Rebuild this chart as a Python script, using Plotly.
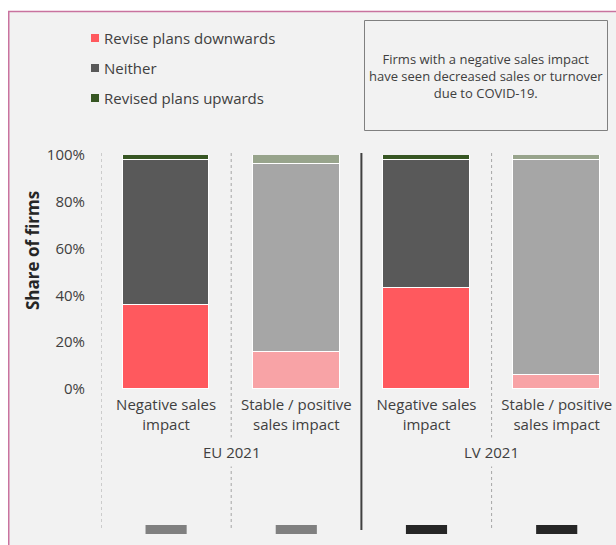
import plotly.graph_objects as go

# ---- data ----
categories = ["Negative sales<br>impact", "Stable / positive<br>sales impact",
              "Negative sales<br>impact", "Stable / positive<br>sales impact"]
groups = ["EU 2021", "LV 2021"]
series_names = ["Revise plans downwards", "Neither", "Revised plans upwards"]
down = [36, 16, 43, 6]
neither = [62, 80, 55, 92]
up = [2, 4, 2, 2]
y_ticks = [0, 20, 40, 60, 80, 100]
y_ticklabels = ["0%", "20%", "40%", "60%", "80%", "100%"]
note_text = "Firms with a negative sales impact<br>have seen decreased sales or turnover<br>due to COVID-19."

# colours: strong for negative sales impact, light for stable/positive
down_colors = ["#FF595E", "#F8A3A6", "#FF595E", "#F8A3A6"]
neither_colors = ["#595959", "#A6A6A6", "#595959", "#A6A6A6"]
up_colors = ["#375623", "#98A48C", "#375623", "#98A48C"]
marker_colors = ["#808080", "#808080", "#262626", "#262626"]

OFF = 0  # page body margin removed below
W, H = 616 - OFF, 545 - OFF
L, R, T, B = 101 - OFF, 616 - OFF, 155 - OFF, 389 - OFF
STEP = 130.2  # pixels per category


def px_x(p):
    return (p - OFF - L) / (R - L)


def px_y(p):
    return (B - (p - OFF)) / (B - T)


xpos = list(range(len(categories)))
fig = go.Figure()
for name, vals, cols in zip(series_names, [down, neither, up],
                            [down_colors, neither_colors, up_colors]):
    fig.add_trace(go.Bar(
        x=xpos, y=vals, name=name, width=0.665,
        marker=dict(color=cols, line=dict(color="white", width=1)),
        showlegend=False, hoverinfo="skip"))

shapes = []
# background panel with pink border (top/left visible)
shapes.append(dict(type="rect", xref="paper", yref="paper",
                   x0=px_x(8.75), x1=px_x(700), y0=px_y(11.5), y1=px_y(600),
                   fillcolor="#F2F2F2", line=dict(color="#C9739F", width=1.5),
                   layer="below"))
# note box
shapes.append(dict(type="rect", xref="paper", yref="paper",
                   x0=px_x(364.5), x1=px_x(607.5), y0=px_y(20.5), y1=px_y(130.5),
                   line=dict(color="#808080", width=1), fillcolor="rgba(0,0,0,0)"))
# separators
for xv in [-0.5, 0.5, 2.5]:
    shapes.append(dict(type="line", xref="x", yref="paper", x0=xv, x1=xv,
                       y0=px_y(153), y1=px_y(530),
                       line=dict(color="#A6A6A6", width=1, dash="dot"), layer="below"))
shapes.append(dict(type="line", xref="x", yref="paper", x0=1.5, x1=1.5,
                   y0=px_y(153), y1=px_y(530),
                   line=dict(color="#404040", width=2)))
# small bottom markers
for i, c in enumerate(marker_colors):
    shapes.append(dict(type="rect", xref="x", yref="paper", x0=i - 0.158, x1=i + 0.158,
                       y0=px_y(534), y1=px_y(525), fillcolor=c, line=dict(width=0)))
# legend squares
leg_y = [38, 68, 98]
leg_cols = [down_colors[0], neither_colors[0], up_colors[0]]
for yy, c in zip(leg_y, leg_cols):
    shapes.append(dict(type="rect", xref="paper", yref="paper",
                       x0=px_x(91), x1=px_x(99), y0=px_y(yy + 4), y1=px_y(yy - 4),
                       fillcolor=c, line=dict(width=0)))

font_family = "Open Sans, Noto Sans, sans-serif"
txt_color = "#404040"
annotations = []
for yy, name in zip(leg_y, series_names):
    annotations.append(dict(xref="paper", yref="paper", x=px_x(102), y=px_y(yy),
                            text=name, showarrow=False, xanchor="left", yanchor="middle",
                            font=dict(size=15, color=txt_color, family=font_family)))
annotations.append(dict(xref="paper", yref="paper", x=px_x(486), y=px_y(76),
                        text=note_text, showarrow=False, xanchor="center", yanchor="middle",
                        align="center",
                        font=dict(size=13, color=txt_color, family=font_family)))
for gi, g in enumerate(groups):
    annotations.append(dict(xref="x", yref="paper", x=gi * 2 + 0.5, y=px_y(452),
                            text=g, showarrow=False, xanchor="center", yanchor="middle",
                            bgcolor="#F2F2F2", borderpad=4,
                            font=dict(size=15, color=txt_color, family=font_family)))
annotations.append(dict(xref="paper", yref="paper", x=px_x(32), y=px_y(251),
                        text="<b>Share of firms</b>", showarrow=False, textangle=-90,
                        xanchor="center", yanchor="middle",
                        font=dict(size=17, color="#262626", family=font_family)))

fig.update_layout(
    width=W, height=H,
    margin=dict(l=L, r=W - R, t=T, b=H - B, pad=0),
    paper_bgcolor="white", plot_bgcolor="rgba(0,0,0,0)",
    barmode="stack", bargap=0,
    shapes=shapes, annotations=annotations,
    font=dict(family=font_family, color=txt_color, size=15),
    xaxis=dict(range=[-0.5, -0.5 + (R - L) / STEP], tickmode="array",
               tickvals=xpos, ticktext=categories, showgrid=False, zeroline=False,
               showline=False, ticks="", ticklabelstandoff=5,
               tickfont=dict(size=15, color=txt_color), fixedrange=True),
    yaxis=dict(range=[0, 100], tickmode="array", tickvals=y_ticks, ticktext=y_ticklabels,
               showgrid=False, zeroline=False, showline=False, ticks="",
               ticklabelstandoff=15, tickfont=dict(size=15, color=txt_color),
               fixedrange=True),
)

fig.write_html(
    "out.html",
    config={"displayModeBar": False},
    post_script="document.body.style.margin='0';"
                "document.documentElement.style.overflow='hidden';"
                "document.body.style.overflow='hidden';",
)
